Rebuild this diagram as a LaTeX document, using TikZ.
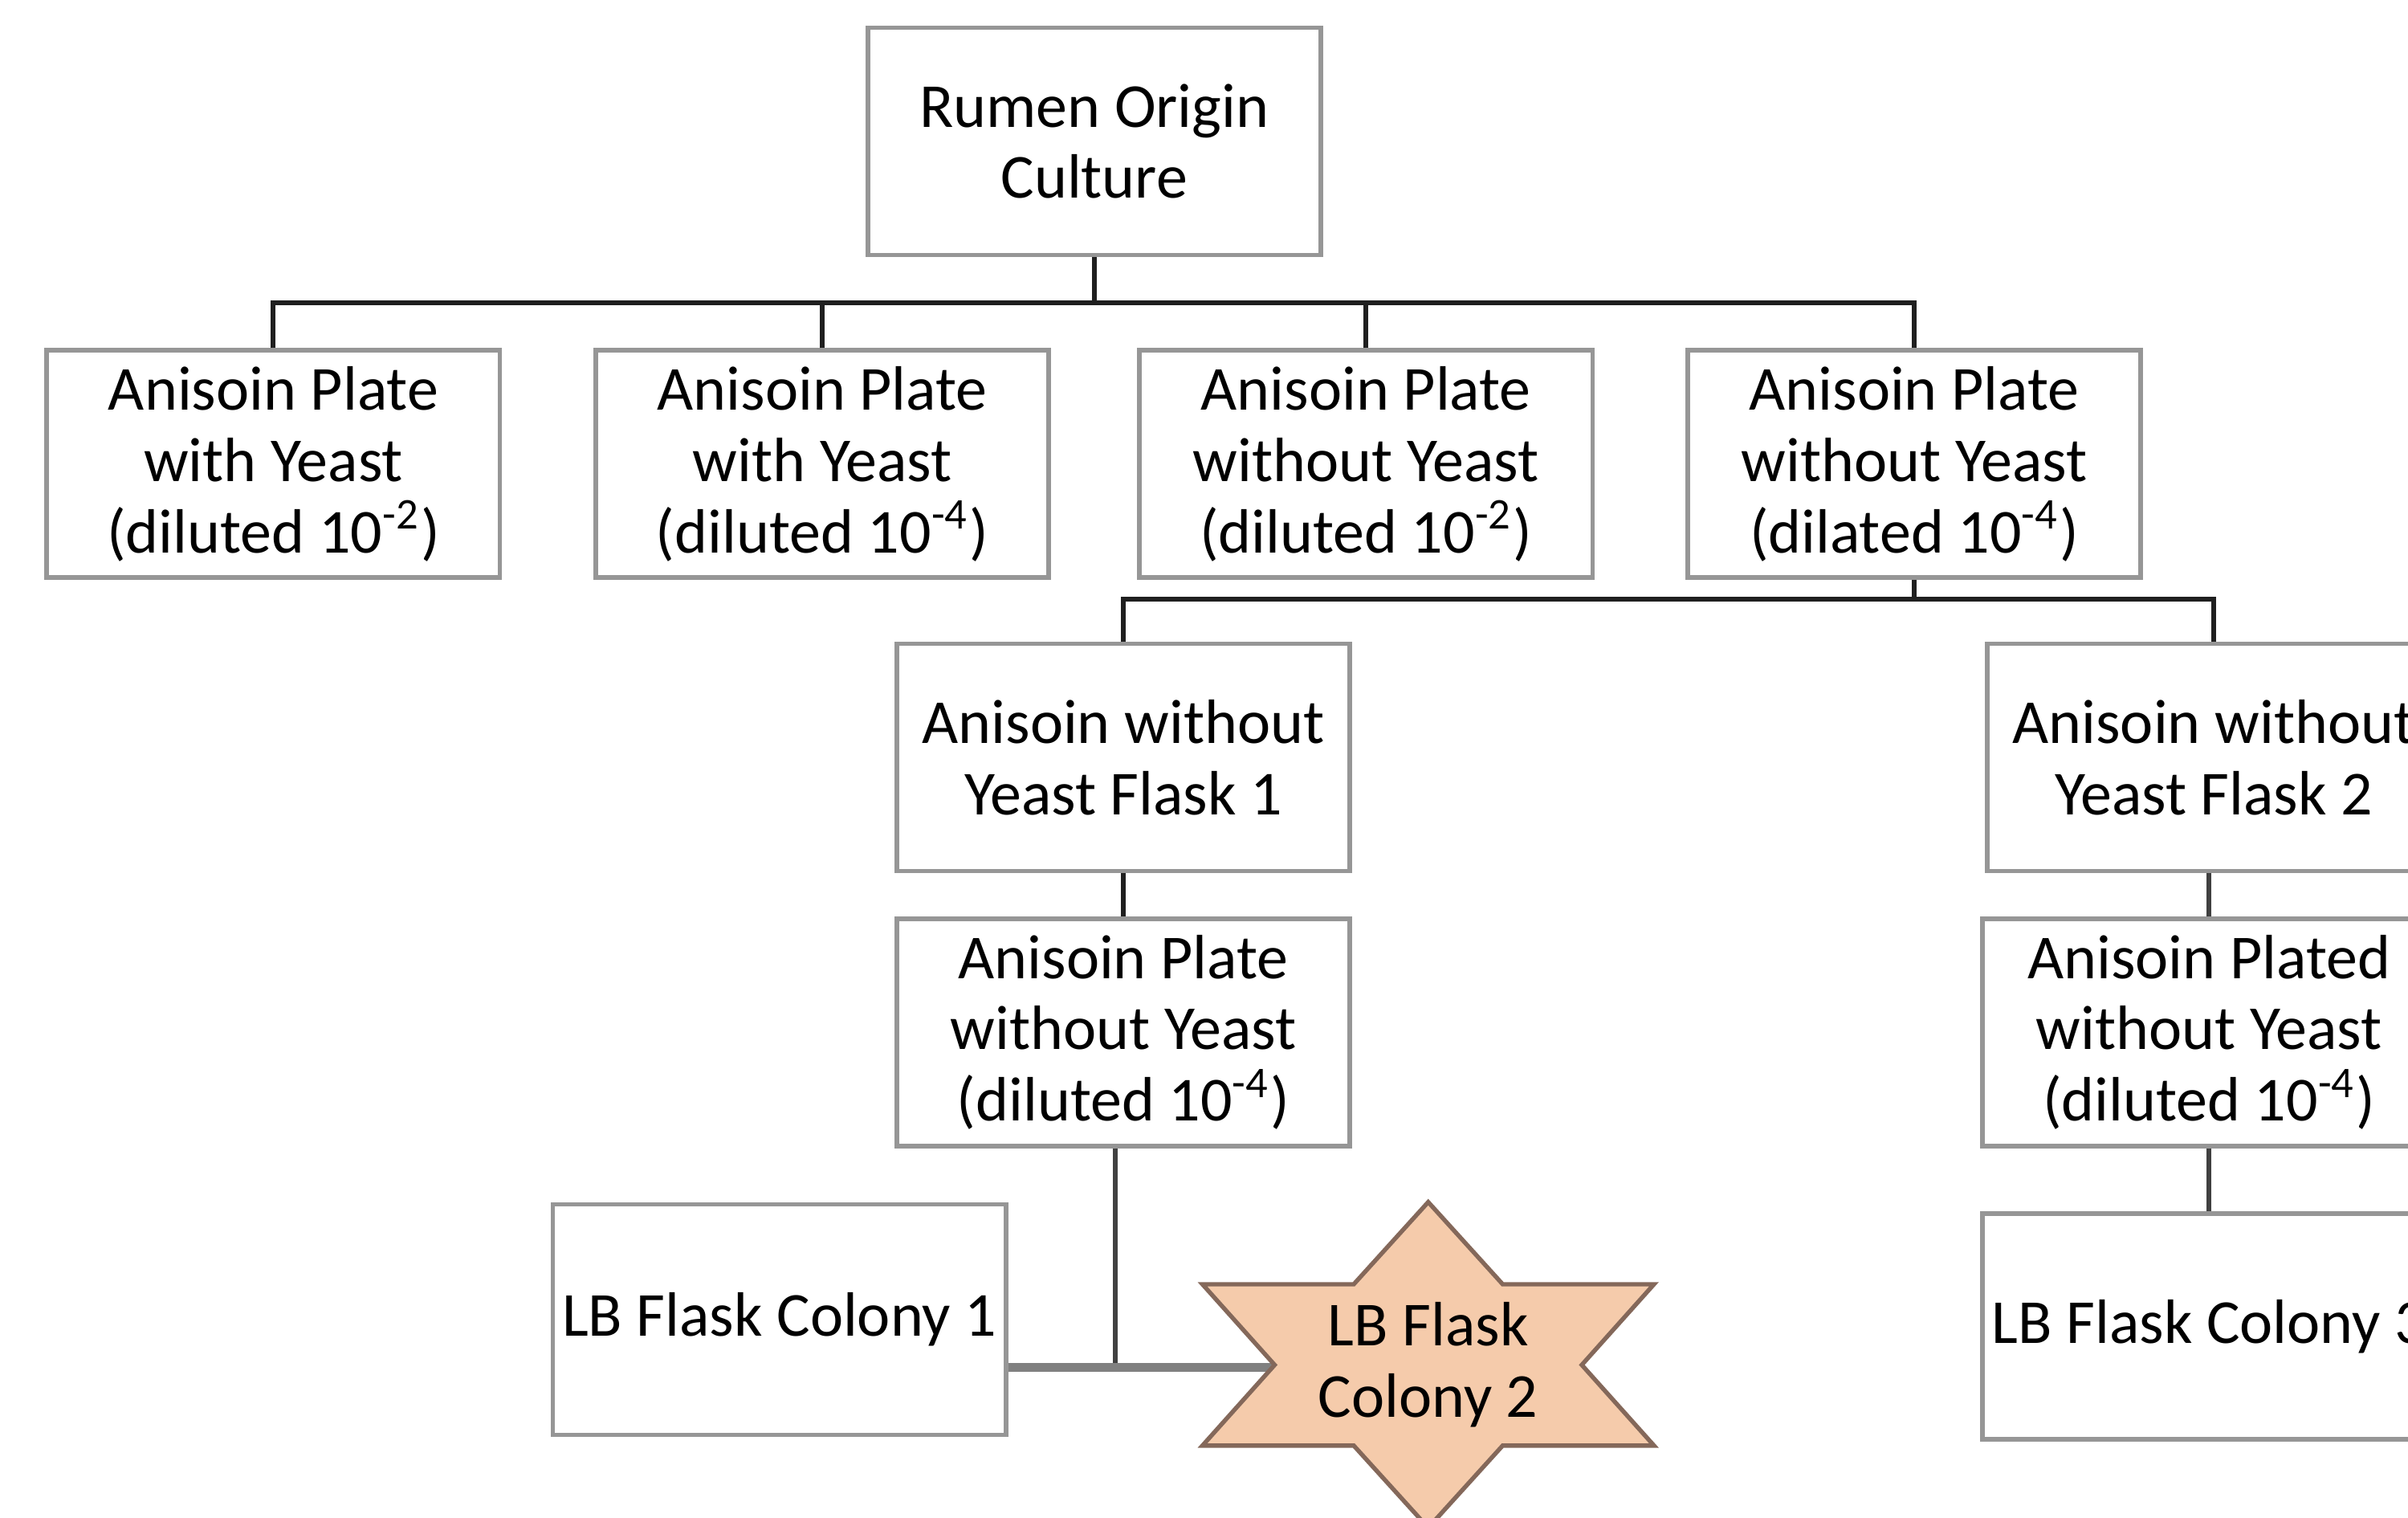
\documentclass[tikz,border=0pt]{standalone}
\usepackage{fontspec}
\setmainfont{Carlito}
\usetikzlibrary{calc}
\definecolor{boxline}{HTML}{969696}
\definecolor{starfill}{HTML}{F5CBAB}
\definecolor{starline}{HTML}{84685A}
\definecolor{thickgray}{HTML}{808080}
\tikzset{
  flowbox/.style={draw=boxline,line width=0.85pt,fill=white,minimum width=29.5mm,
    minimum height=14.8mm,inner sep=0pt,align=center,font=\fontsize{11.6}{13.2}\selectfont},
  link/.style={draw=black!88,line width=0.9pt},
}
\begin{document}
\begin{tikzpicture}[x=0.1mm,y=-0.1mm]
\useasboundingbox (0,0) rectangle (1568,988);
\clip (0,0) rectangle (1568,988);
\node[flowbox] (root) at (712.5,92) {Rumen Origin\\Culture};
\node[flowbox] (b1) at (178,302) {Anisoin Plate\\with Yeast\\(diluted 10\textsuperscript{-2})};
\node[flowbox] (b2) at (535.5,302) {Anisoin Plate\\with Yeast\\(diluted 10\textsuperscript{-4})};
\node[flowbox] (b3) at (889.5,302) {Anisoin Plate\\without Yeast\\(diluted 10\textsuperscript{-2})};
\node[flowbox] (b4) at (1246.5,302) {Anisoin Plate\\without Yeast\\(dilated 10\textsuperscript{-4})};
\node[flowbox] (f1) at (731.5,493) {Anisoin without\\Yeast Flask 1};
\node[flowbox] (f2) at (1441.5,493) {Anisoin without\\Yeast Flask 2};
\node[flowbox] (p1) at (731.5,672) {Anisoin Plate\\without Yeast\\(diluted 10\textsuperscript{-4})};
\node[flowbox] (p2) at (1438.5,672) {Anisoin Plated\\without Yeast\\(diluted 10\textsuperscript{-4})};
\node[flowbox,minimum height=15mm] (c1) at (507.5,859) {LB Flask Colony 1};
\node[flowbox,minimum height=14.7mm] (c3) at (1438.5,863.5) {LB Flask Colony 3};
\coordinate (bus1) at (714,197);
\coordinate (bus2) at (1248,390);
\coordinate (joint) at (726,890);
\coordinate (c2) at (930,888.5);
\coordinate (c2left) at ($(c2)+(-100,0)$);
\draw[link] (root.south) -- (root.south |- bus1);
\draw[link] (b1.north) |- (bus1 -| b4.north) -- (b4.north);
\draw[link] (b2.north) -- (b2.north |- bus1);
\draw[link] (b3.north) -- (b3.north |- bus1);
\draw[link] (b4.south) -- (b4.south |- bus2);
\draw[link] (f1.north) |- (bus2 -| f2.north) -- (f2.north);
\draw[link] (f1.south) -- (p1.north);
\draw[link,draw=black!75] (p2.north |- f2.south) -- (p2.north);
\draw[link,draw=black!75] (p2.south) -- (c3.north);
\draw[link,draw=black!75] (p1.south -| joint) -- (joint);
\draw[draw=thickgray,line width=1.6pt] (c1.east |- joint) -- (c2left |- joint);
\filldraw[fill=starfill,draw=starline,line width=0.8pt]
  ($(c2)+(0,-106)$) -- ($(c2)+(48.5,-52.5)$) -- ($(c2)+(147,-52.5)$)
  -- ($(c2)+(100,0)$) -- ($(c2)+(147,52.5)$) -- ($(c2)+(48.5,52.5)$)
  -- ($(c2)+(0,106)$) -- ($(c2)+(-48.5,52.5)$) -- ($(c2)+(-147,52.5)$)
  -- (c2left) -- ($(c2)+(-147,-52.5)$) -- ($(c2)+(-48.5,-52.5)$) -- cycle;
\node[align=center,inner sep=0pt,font=\fontsize{11.6}{13.2}\selectfont] (colony2) at (c2) {LB Flask\\Colony 2};
\end{tikzpicture}
\end{document}
